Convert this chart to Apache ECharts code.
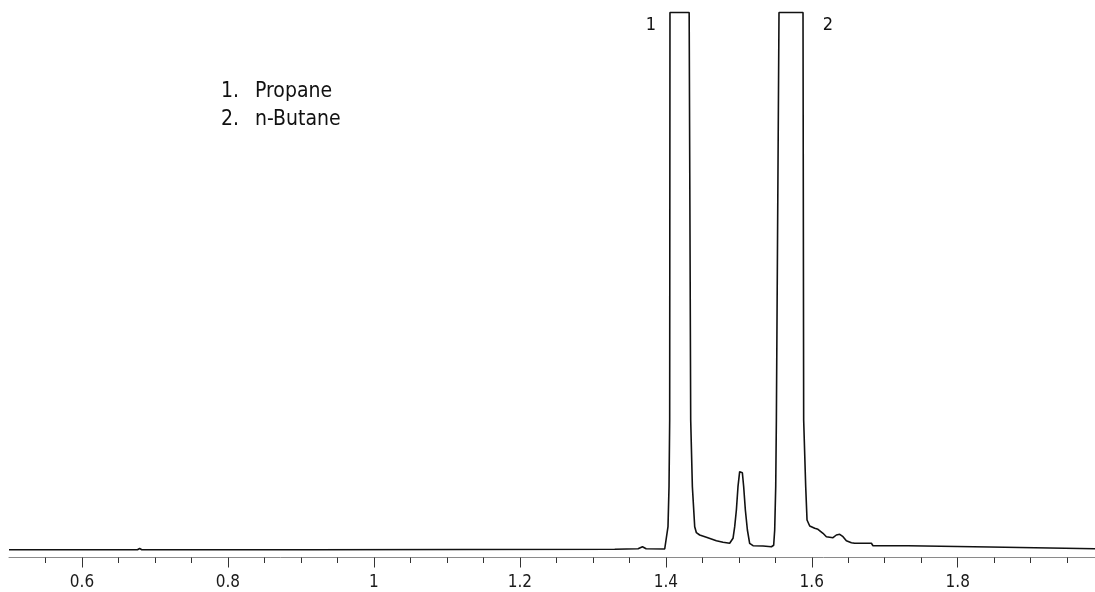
<!DOCTYPE html>
<html style="height: 100%">
<head>
<meta charset="utf-8">
</head>
<body style="height: 100%; margin: 0; background: #fff">
<div id="container" style="width: 1095px; height: 592px"></div>
<script type="text/javascript" src="https://cdn.jsdelivr.net/npm/echarts@6/dist/echarts.min.js"></script>
<script type="text/javascript">
// retention time (min) and detector response
var rt = [
    0.5, 0.676, 0.679, 0.682, 0.915, 0.917, 1.33, 1.331, 1.362, 1.368, 1.373, 1.3985,
    1.3994, 1.4030, 1.4044, 1.4053, 1.4057, 1.4320, 1.4341, 1.4364, 1.4396, 1.4419,
    1.4464, 1.4556, 1.4693, 1.4784, 1.4875, 1.4899, 1.4921, 1.4944, 1.4967, 1.4989,
    1.5012, 1.5026, 1.5049, 1.5067, 1.5090, 1.5118, 1.5149, 1.5195, 1.5332, 1.5447,
    1.5478, 1.5492, 1.5506, 1.5515, 1.5551, 1.5880, 1.5889, 1.5917, 1.5935, 1.5972,
    1.6040, 1.6085, 1.6154, 1.6200, 1.6291, 1.6337, 1.6383, 1.6428, 1.6474, 1.6543,
    1.6588, 1.6817, 1.6839, 1.7319, 1.7342, 1.8438, 1.8461, 1.9881
];
var response = [
    -0.2, -0.2, 1.0, -0.2, -0.2, 0.2, 0.2, 0.8, 0.8, 2.8, 0.8, 0.5,
    0.2, 22.8, 62.8, 129.5, 537, 537, 129.5, 62.8, 22.8, 16.8,
    14.5, 12.2, 8.8, 7.2, 6.2, 6.2, 11.2, 22.8, 39.5, 62.8,
    77.8, 79.5, 76.8, 62.8, 39.5, 19.5, 6.2, 3.8, 3.5, 2.8,
    4.2, 19.5, 62.8, 129.5, 537, 537, 129.5, 62.8, 29.5, 23.5,
    21.2, 20.2, 16.2, 12.8, 11.8, 14.5, 15.2, 12.8, 8.8, 6.8,
    6.2, 6.2, 3.8, 3.8, 2.5, 2.5, 0.8, 0.8
];
var majorTicks = [0.6, 0.8, 1, 1.2, 1.4, 1.6, 1.8];
var minorTicks = [0.55, 0.65, 0.7, 0.75, 0.85, 0.9, 0.95, 1.05, 1.1, 1.15, 1.25, 1.3, 1.35,
    1.45, 1.5, 1.55, 1.65, 1.7, 1.75, 1.85, 1.9, 1.95];
var peakNames = ['1', '2'];
var compounds = ['Propane', 'n-Butane'];

var font = "'Liberation Sans Narrow', 'DejaVu Sans Condensed', sans-serif";
var myChart = echarts.init(document.getElementById('container'));

var trace = rt.map(function (t, i) { return [t, response[i]]; });

var legendText = [];
compounds.forEach(function (name, i) {
    legendText.push({
        type: 'text', left: 221, top: 81 + i * 28.5,
        style: { text: (i + 1) + '.', font: '21px ' + font, fill: '#111' }
    });
    legendText.push({
        type: 'text', left: 255, top: 81 + i * 28.5,
        style: { text: name, font: '21px ' + font, fill: '#111' }
    });
});

var option = {
    animation: false,
    grid: { left: 9, right: 0, top: 10, bottom: 34.5, outerBoundsMode: 'none' },
    xAxis: [{
        type: 'value',
        position: 'bottom',
        min: 0.5,
        max: 1.9881,
        axisLine: { show: true, onZero: false, lineStyle: { color: '#8a8a8a', width: 1 } },
        axisTick: { show: true, customValues: majorTicks, length: 10, lineStyle: { color: '#333' } },
        axisLabel: {
            show: true, customValues: majorTicks, margin: 17,
            fontFamily: font, fontSize: 17, color: '#1a1a1a'
        },
        splitLine: { show: false }
    }, {
        type: 'value',
        position: 'bottom',
        min: 0.5,
        max: 1.9881,
        axisLine: { show: false, onZero: false },
        axisTick: { show: true, customValues: minorTicks, length: 5.5, lineStyle: { color: '#333' } },
        axisLabel: { show: false },
        splitLine: { show: false }
    }],
    yAxis: { type: 'value', min: -8, max: 539.5, show: false },
    graphic: legendText,
    series: [{
        type: 'line',
        data: trace,
        showSymbol: false,
        symbol: 'none',
        lineStyle: { color: '#111', width: 1.6 }
    }]
};

myChart.setOption(option);

// peak numbers beside the flat tops of the two saturated peaks
var saturation = Math.max.apply(null, response);
var plateau = [];
response.forEach(function (v, i) { if (v === saturation) plateau.push(i); });
var labelAt = [plateau[0], plateau[plateau.length - 1]];
var labelOffset = [[-19, 13], [25, 13]];
var peakText = labelAt.map(function (idx, k) {
    var p = myChart.convertToPixel({ seriesIndex: 0 }, trace[idx]);
    return {
        type: 'text',
        x: p[0] + labelOffset[k][0],
        y: p[1] + labelOffset[k][1],
        style: {
            text: peakNames[k], font: '18px ' + font, fill: '#111',
            align: 'center', verticalAlign: 'middle'
        }
    };
});
myChart.setOption({ graphic: legendText.concat(peakText) });
</script>
</body>
</html>
